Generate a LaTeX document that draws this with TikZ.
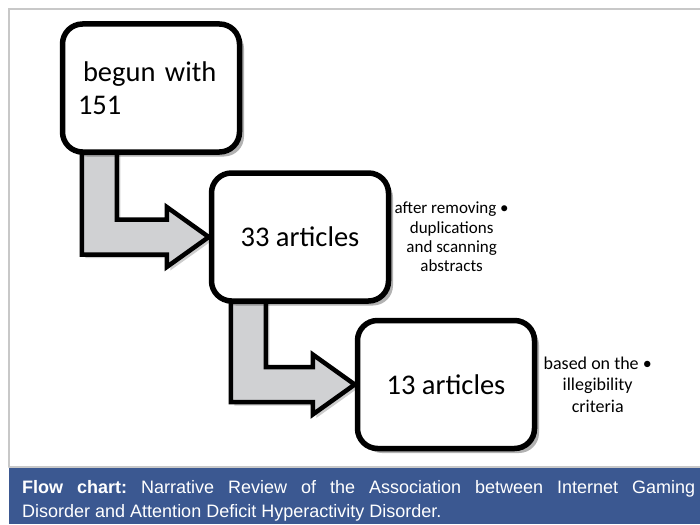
\documentclass[tikz,border=0pt]{standalone}
\usepackage{fontspec}
\setmainfont{Carlito}
\newfontfamily\capfont{Liberation Sans}
\usetikzlibrary{positioning,calc,shadows,backgrounds}
\definecolor{capblue}{RGB}{59,88,145}
\definecolor{arrowgray}{RGB}{208,209,211}
\definecolor{framegray}{RGB}{200,200,200}
\frenchspacing
\tikzset{
  stepbox/.style={draw=black, line width=5.5pt, fill=white, rounded corners=20pt,
    minimum width=177pt, minimum height=128pt, inner sep=0pt,
    font=\fontsize{28.5}{33}\selectfont,
    drop shadow={shadow xshift=4.5pt, shadow yshift=-4.5pt, fill=black, opacity=0.3}},
  sidenote/.style={align=center, inner sep=0pt},
  flowarrow/.style={draw=black, line width=4.5pt, fill=arrowgray, line join=miter,
    drop shadow={shadow xshift=3.5pt, shadow yshift=-3.5pt, fill=black, opacity=0.2}}
}
\begin{document}
\begin{tikzpicture}[x=1pt, y=-1pt, thick, line cap=round]
    % Page size
    \useasboundingbox (0,0) rectangle (700,524);

    % Light grey frame (top and left edges, right side runs off the page)
    \draw[framegray, line width=1.5pt] (9,467) -- (9,9) -- (700,9);
    \draw[framegray, line width=1.5pt] (9,467) -- (700,467);

    % The three steps, going down to the right
    \node[stepbox, align=left, text width=146pt] (begun) at (151,88) {\hspace*{5pt}begun with\\151};
    \node[stepbox] (sift) at (300,237) {33 articles};
    \node[stepbox] (final) at (446,384.5) {13 articles};

    % Notes to the right of the boxes
    \node[sidenote, right=3pt of sift, font=\fontsize{17}{19.3}\selectfont] (siftnote)
      {after removing •\\duplications\\and scanning\\abstracts};
    \node[sidenote, right=6pt of final, font=\fontsize{18}{21.5}\selectfont] (finalnote)
      {based on the •\\illegibility\\criteria};

    % Bent block arrows, drawn under the boxes
    \begin{pgfonlayer}{background}
      \foreach \src/\dst in {begun/sift, sift/final}
        \draw[flowarrow] let \p1 = (\src.south west), \p2 = (\dst.west) in
          (\x1+22pt, \y1+6pt) -- (\x1+22pt, \y2-17.5pt) -- (\x2-42pt, \y2-17.5pt)
          -- (\x2-42pt, \y2-30pt) -- (\x2, \y2) -- (\x2-42pt, \y2+30pt)
          -- (\x2-42pt, \y2+17.5pt) -- (\x1+57pt, \y2+17.5pt) -- (\x1+57pt, \y1+6pt) -- cycle;
    \end{pgfonlayer}

    % Caption bar
    \fill[capblue] (9,468) rectangle (700,524);
    \node[anchor=base west, inner sep=0pt, text=white, font=\capfont\fontsize{18}{24}\selectfont] (caption) at (22,493)
      {\parbox[t]{673pt}{\textbf{Flow chart:} Narrative Review of the Association between Internet Gaming\linebreak Disorder and Attention Deficit Hyperactivity Disorder.}};
\end{tikzpicture}
\end{document}
